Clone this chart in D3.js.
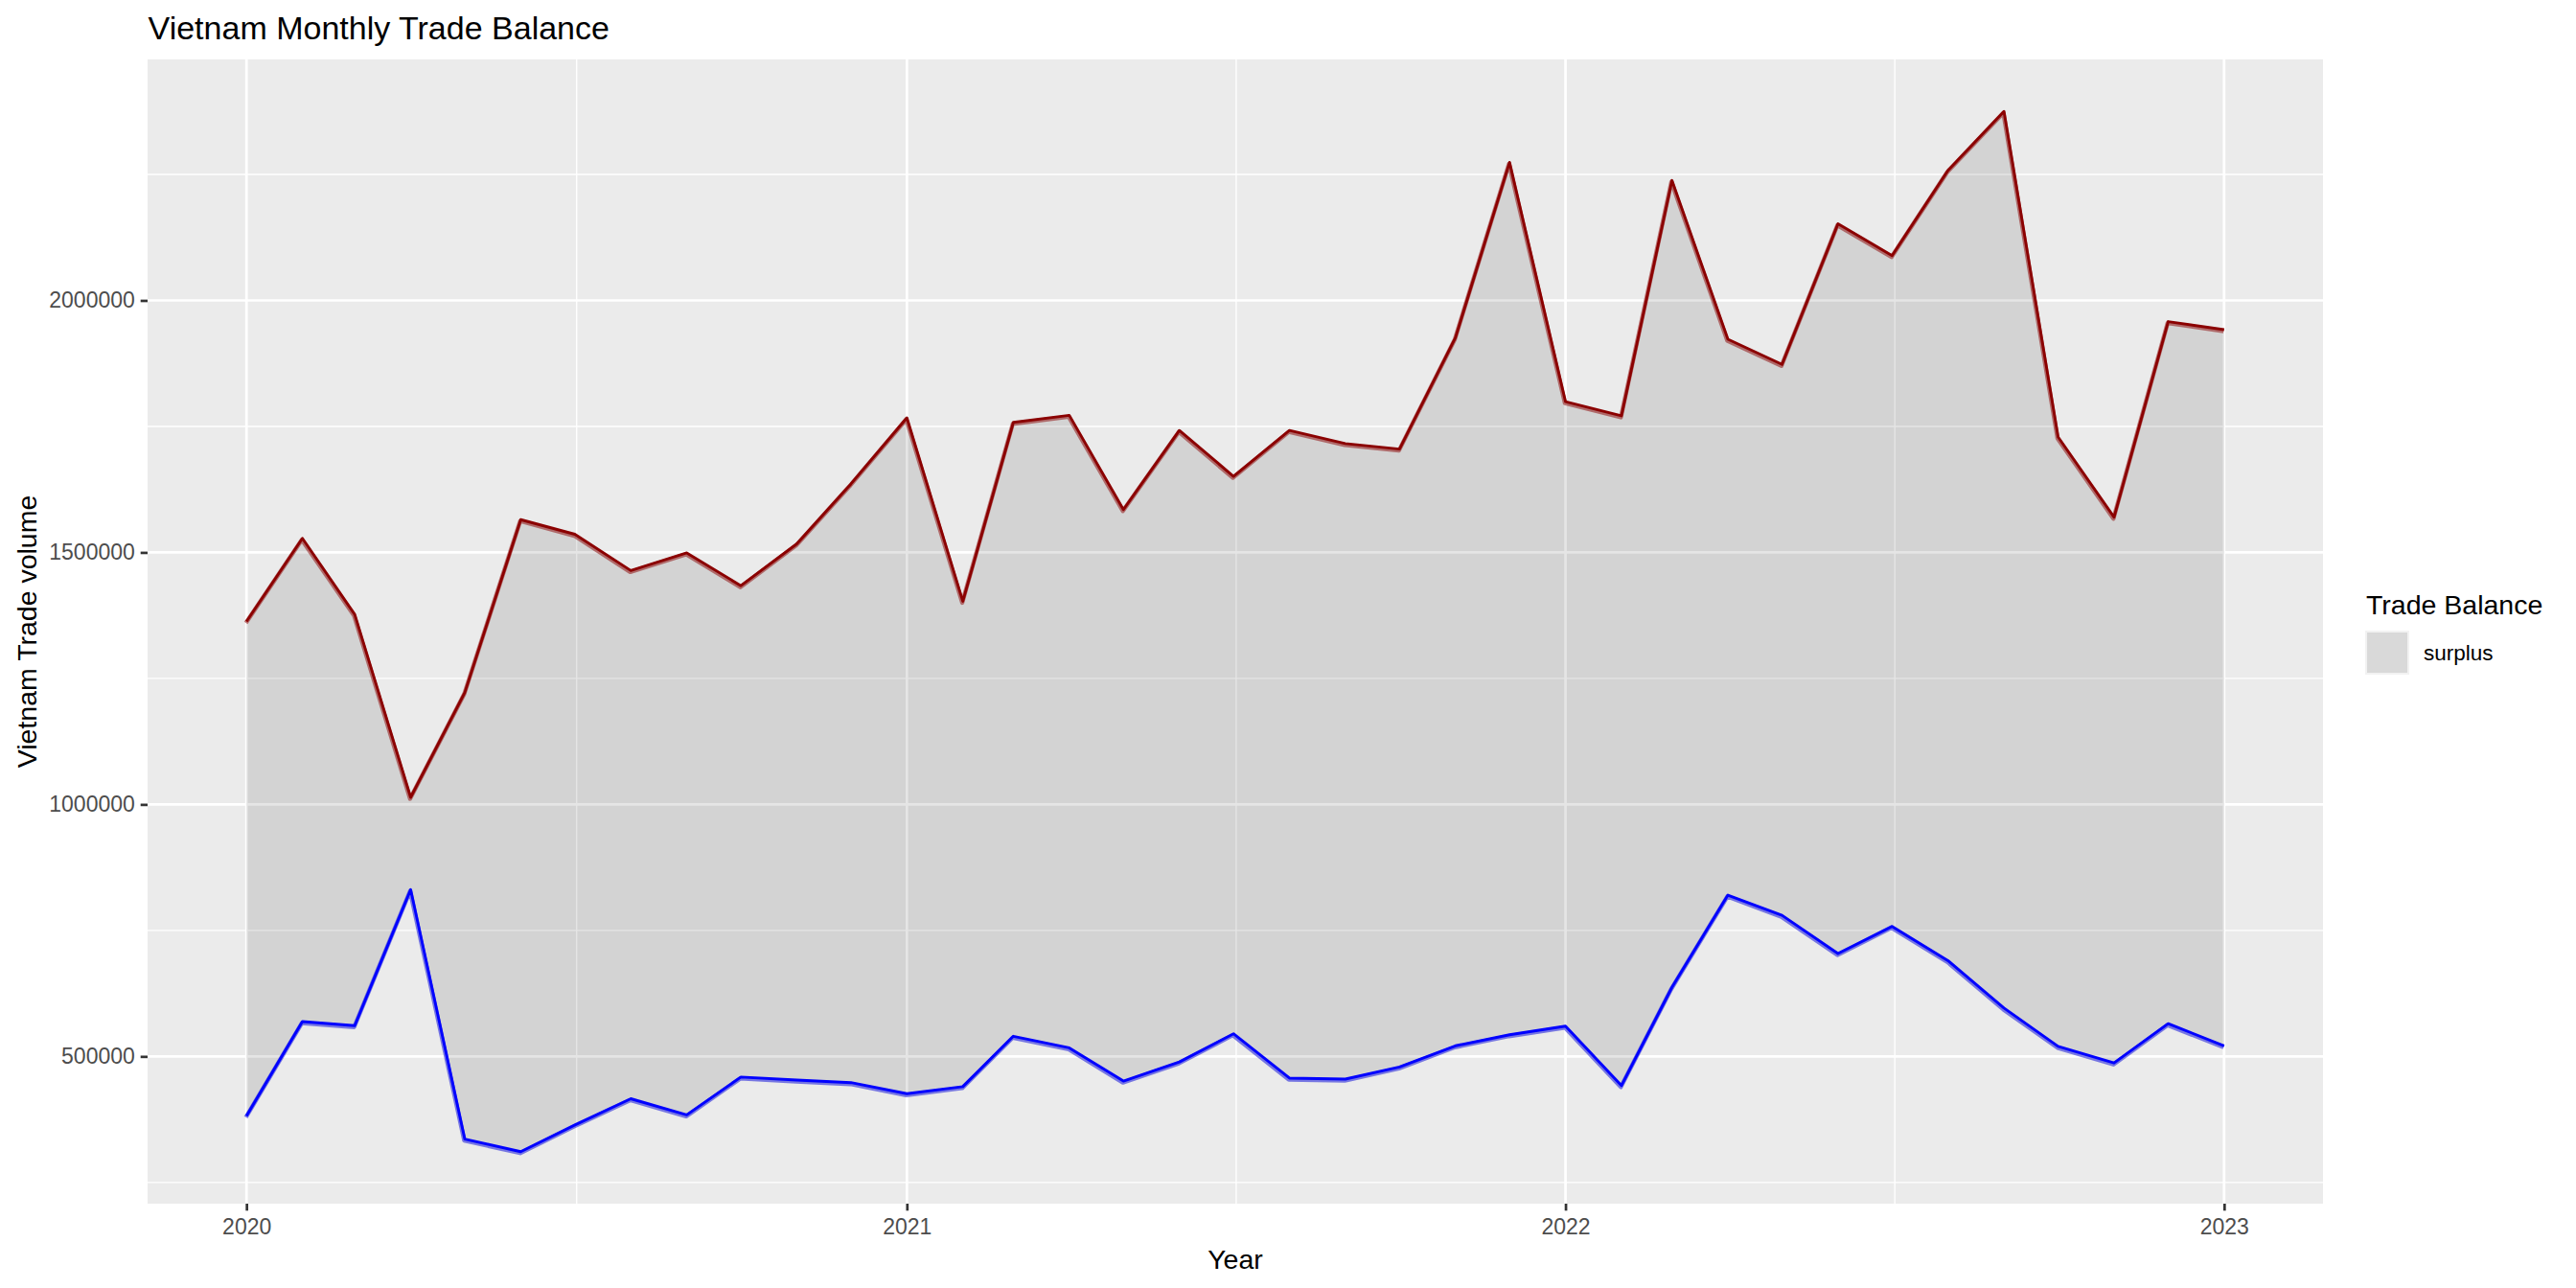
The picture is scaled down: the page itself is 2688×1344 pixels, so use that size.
<!DOCTYPE html>
<html>
<head>
<meta charset="utf-8">
<script src="https://cdn.jsdelivr.net/npm/d3@7"></script>
<style>
  html, body { margin: 0; padding: 0; background: #ffffff; }
  svg { display: block; font-family: "Liberation Sans", Arial, "DejaVu Sans", sans-serif; }
</style>
</head>
<body>
<svg id="chart" width="2688" height="1344"></svg>
<script>
// ---------------- data ----------------
const months = [
  "2020-01","2020-02","2020-03","2020-04","2020-05","2020-06","2020-07","2020-08","2020-09","2020-10","2020-11","2020-12",
  "2021-01","2021-02","2021-03","2021-04","2021-05","2021-06","2021-07","2021-08","2021-09","2021-10","2021-11","2021-12",
  "2022-01","2022-02","2022-03","2022-04","2022-05","2022-06","2022-07","2022-08","2022-09","2022-10","2022-11","2022-12",
  "2023-01"
];
const exportsVals = [
  1363000, 1528000, 1377000, 1014000, 1222000, 1565000, 1536000, 1464000, 1499000, 1434000, 1517000, 1636000,
  1767000, 1403000, 1758000, 1772000, 1585000, 1742000, 1651000, 1742000, 1716000, 1705000, 1926000, 2274000,
  1799000, 1771000, 2238000, 1923000, 1873000, 2152000, 2089000, 2258000, 2375000, 1729000, 1570000, 1958000,
  1942000
];
const importsVals = [
  382000, 569000, 561000, 831000, 336000, 311000, 364000, 416000, 384000, 459000, 453000, 448000,
  426000, 440000, 540000, 517000, 451000, 489000, 545000, 457000, 455000, 479000, 521000, 543000,
  560000, 442000, 637000, 820000, 780000, 704000, 758000, 690000, 596000, 520000, 487000, 565000,
  521000
];
const yTicks = [500000, 1000000, 1500000, 2000000];
const yMinor = [250000, 750000, 1250000, 1750000, 2250000];
const xTickLabels = ["2020", "2021", "2022", "2023"];
const legendTitle = "Trade Balance";
const legendLabels = ["surplus"];
const chartTitle = "Vietnam Monthly Trade Balance";
const xTitle = "Year";
const yTitle = "Vietnam Trade volume";

// ---------------- layout ----------------
const panel = { left: 154, top: 62, right: 2424, bottom: 1256 };
const svg = d3.select("#chart");
svg.append("rect").attr("width", 2688).attr("height", 1344).attr("fill", "#ffffff");

const parse = d3.utcParse("%Y-%m");
const data = months.map((m, i) => ({ date: parse(m), hi: exportsVals[i], lo: importsVals[i] }));

// x scale with ggplot-like 5% expansion
const xExt = d3.extent(data, d => d.date);
const xSpan = xExt[1] - xExt[0];
const x = d3.scaleUtc()
  .domain([new Date(+xExt[0] - 0.05 * xSpan), new Date(+xExt[1] + 0.05 * xSpan)])
  .range([panel.left, panel.right]);

const yLo = d3.min(importsVals), yHi = d3.max(exportsVals);
const ySpan = yHi - yLo;
const y = d3.scaleLinear()
  .domain([yLo - 0.05 * ySpan, yHi + 0.05 * ySpan])
  .range([panel.bottom, panel.top]);

const xMajor = xTickLabels.map(s => d3.utcParse("%Y")(s));
const xMinorDates = d3.pairs(xMajor).map(([a, b]) => new Date((+a + +b) / 2));

// panel background
svg.append("rect")
  .attr("x", panel.left).attr("y", panel.top)
  .attr("width", panel.right - panel.left).attr("height", panel.bottom - panel.top)
  .attr("fill", "#EBEBEB");

const grid = svg.append("g");
// minor grid
grid.selectAll("line.ymin").data(yMinor).enter().append("line")
  .attr("x1", panel.left).attr("x2", panel.right)
  .attr("y1", d => y(d)).attr("y2", d => y(d))
  .attr("stroke", "#ffffff").attr("stroke-width", 1.35);
grid.selectAll("line.xmin").data(xMinorDates).enter().append("line")
  .attr("y1", panel.top).attr("y2", panel.bottom)
  .attr("x1", d => x(d)).attr("x2", d => x(d))
  .attr("stroke", "#ffffff").attr("stroke-width", 1.35);
// major grid
grid.selectAll("line.ymaj").data(yTicks).enter().append("line")
  .attr("x1", panel.left).attr("x2", panel.right)
  .attr("y1", d => y(d)).attr("y2", d => y(d))
  .attr("stroke", "#ffffff").attr("stroke-width", 2.7);
grid.selectAll("line.xmaj").data(xMajor).enter().append("line")
  .attr("y1", panel.top).attr("y2", panel.bottom)
  .attr("x1", d => x(d)).attr("x2", d => x(d))
  .attr("stroke", "#ffffff").attr("stroke-width", 2.7);

// ribbon
const area = d3.area().x(d => x(d.date)).y0(d => y(d.lo)).y1(d => y(d.hi));
svg.append("path").datum(data).attr("d", area).attr("fill", "rgba(0,0,0,0.1)");

// lines
const lineHi = d3.line().x(d => x(d.date)).y(d => y(d.hi));
const lineLo = d3.line().x(d => x(d.date)).y(d => y(d.lo));
function drawLine(gen, col, shade) {
  svg.append("path").datum(data).attr("d", gen)
    .attr("fill", "none").attr("stroke", shade).attr("stroke-width", 4.4)
    .attr("stroke-linejoin", "round")
    .attr("transform", "translate(-0.6,1.5)");
  svg.append("path").datum(data).attr("d", gen)
    .attr("fill", "none").attr("stroke", col).attr("stroke-width", 2.9)
    .attr("stroke-linejoin", "round");
}
drawLine(lineHi, "#8B0000", "rgba(139,0,0,0.5)");
drawLine(lineLo, "#0000FF", "rgba(40,40,220,0.6)");

// axes
const tickCol = "#333333", labCol = "#4D4D4D";
const xAxis = svg.append("g").attr("transform", `translate(0,${panel.bottom})`)
  .call(d3.axisBottom(x).tickValues(xMajor).tickFormat(d3.utcFormat("%Y")).tickSize(7.3).tickPadding(8));
xAxis.select(".domain").remove();
xAxis.selectAll(".tick line").attr("stroke", tickCol).attr("stroke-width", 2.7);
xAxis.selectAll(".tick text").attr("fill", labCol).attr("font-size", 23)
  .attr("font-family", "Liberation Sans, Arial, sans-serif");

const yAxis = svg.append("g").attr("transform", `translate(${panel.left},0)`)
  .call(d3.axisLeft(y).tickValues(yTicks).tickFormat(d3.format("d")).tickSize(7.3).tickPadding(5.9));
yAxis.select(".domain").remove();
yAxis.selectAll(".tick line").attr("stroke", tickCol).attr("stroke-width", 2.7);
yAxis.selectAll(".tick text").attr("fill", labCol).attr("font-size", 23)
  .attr("font-family", "Liberation Sans, Arial, sans-serif");

// titles
svg.append("text").attr("x", 154.6).attr("y", 41).attr("font-size", 34).attr("fill", "#000")
  .text(chartTitle);
svg.append("text").attr("x", (panel.left + panel.right) / 2).attr("y", 1324)
  .attr("text-anchor", "middle").attr("font-size", 28.5).attr("fill", "#000").text(xTitle);
svg.append("text")
  .attr("transform", `translate(37.7,${(panel.top + panel.bottom) / 2}) rotate(-90)`)
  .attr("text-anchor", "middle").attr("font-size", 28.5).attr("fill", "#000").text(yTitle);

// legend
const lg = svg.append("g");
lg.append("text").attr("x", 2469).attr("y", 641).attr("font-size", 28.5).attr("fill", "#000").text(legendTitle);
legendLabels.forEach((lab, i) => {
  const ky = 658 + i * 46;
  lg.append("rect").attr("x", 2468).attr("y", ky).attr("width", 46).attr("height", 46).attr("fill", "#F2F2F2");
  lg.append("rect").attr("x", 2470).attr("y", ky + 2).attr("width", 42).attr("height", 42).attr("fill", "rgba(0,0,0,0.1)");
  lg.append("text").attr("x", 2529).attr("y", ky + 23).attr("dy", "0.35em")
    .attr("font-size", 22.5).attr("fill", "#000").text(lab);
});
</script>
</body>
</html>
